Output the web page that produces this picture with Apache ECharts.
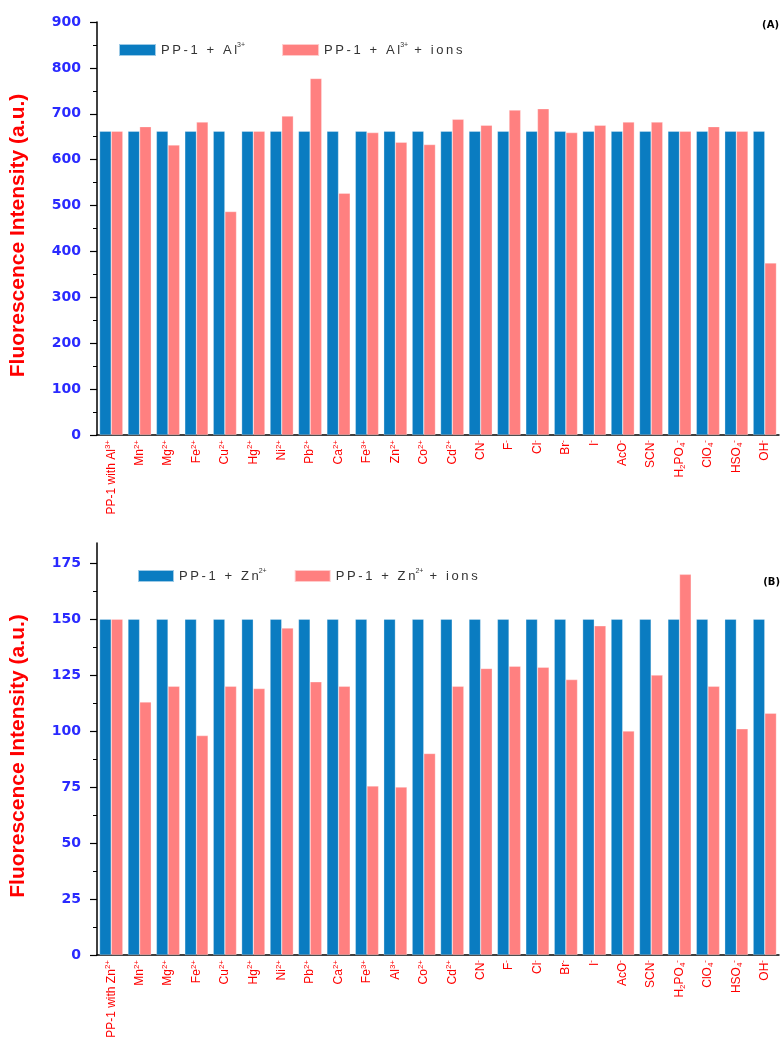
<!DOCTYPE html>
<html><head><meta charset="utf-8">
<script src="https://cdn.jsdelivr.net/npm/echarts@6/dist/echarts.min.js"></script>
<style>html,body{margin:0;padding:0;background:#fff}#c{width:780px;height:1056px}</style>
</head><body><div id="c"></div>
<script>
const catsA = ['PP-1 with Al{sup|3+}','Mn{sup|2+}','Mg{sup|2+}','Fe{sup|2+}','Cu{sup|2+}','Hg{sup|2+}','Ni{sup|2+}','Pb{sup|2+}','Ca{sup|2+}','Fe{sup|3+}','Zn{sup|2+}','Co{sup|2+}','Cd{sup|2+}','CN{sup|-}','F{sup|-}','Cl{sup|-}','Br{sup|-}','I{sup|-}','AcO{sup|-}','SCN{sup|-}','H{sub|2}PO{sub|4}{sup|-}','ClO{sub|4}{sup|-}','HSO{sub|4}{sup|-}','OH{sup|-}'];
const catsB = ['PP-1 with Zn{sup|2+}','Mn{sup|2+}','Mg{sup|2+}','Fe{sup|2+}','Cu{sup|2+}','Hg{sup|2+}','Ni{sup|2+}','Pb{sup|2+}','Ca{sup|2+}','Fe{sup|3+}','Al{sup|3+}','Co{sup|2+}','Cd{sup|2+}','CN{sup|-}','F{sup|-}','Cl{sup|-}','Br{sup|-}','I{sup|-}','AcO{sup|-}','SCN{sup|-}','H{sub|2}PO{sub|4}{sup|-}','ClO{sub|4}{sup|-}','HSO{sub|4}{sup|-}','OH{sup|-}'];
const blueA = [662,662,662,662,662,662,662,662,662,662,662,662,662,662,662,662,662,662,662,662,662,662,662,662];
const redA  = [662,672,632,682,487,662,695,777,527,659,638,633,688,675,708,711,659,675,682,682,662,672,662,375];
const blueB = [150,150,150,150,150,150,150,150,150,150,150,150,150,150,150,150,150,150,150,150,150,150,150,150];
const redB  = [150,113,120,98,120,119,146,122,120,75.5,75,90,120,128,129,128.5,123,147,100,125,170,120,101,108];
const ticksA = [0,100,200,300,400,500,600,700,800,900];
const ticksB = [0,25,50,75,100,125,150,175];
const nameA1 = 'PP-1 + Al3+', nameA2 = 'PP-1 + Al3+ + ions';
const nameB1 = 'PP-1 + Zn2+', nameB2 = 'PP-1 + Zn2+ + ions';

const BLUE = '#0a7cc1', RED = '#ff8080';
const FF = 'Liberation Sans, Arial, sans-serif';
const labRich = {
  sup: {fontSize: 8, color: '#ff0000', fontFamily: FF, verticalAlign: 'top', lineHeight: 14},
  sub: {fontSize: 8, color: '#ff0000', fontFamily: FF, verticalAlign: 'bottom', lineHeight: 14}
};
const legRich = {
  t: {fontSize: 13, color: '#333', fontFamily: FF},
  s: {fontSize: 7, color: '#333', fontFamily: FF, verticalAlign: 'top', lineHeight: 16}
};
function spaced(s){ return s.split('').join('\u2009'); }
function legFmt(n){
  const m = n.match(/^(PP-1 \+ )(Al|Zn)(\d\+)(.*)$/);
  return '{t|' + spaced(m[1] + m[2]) + '}{s|' + m[3] + '}' + (m[4] ? '{t|' + spaced(m[4]) + '}' : '');
}
const grids = [
  {left: 97, width: 682, top: 22, height: 413},
  {left: 97, width: 682, top: 543, height: 412}
];
function xAxes(gi, cats){
  return [
    {type:'category', gridIndex: gi, data: cats,
     axisLine:{lineStyle:{color:'#000', width:1.5}},
     axisTick:{alignWithLabel:true, length:8, lineStyle:{color:'#000', width:1.5}},
     axisLabel:{rotate:90, interval:0, margin:5, color:'#ff0000', fontSize:12, fontFamily:FF, rich: labRich}},
    {type:'category', gridIndex: gi, data: cats, position:'bottom',
     axisLine:{show:false}, axisLabel:{show:false},
     axisTick:{length:4, lineStyle:{color:'#000', width:1.2}}}
  ];
}
function yAxis(gi, max, interval, ticks){
  return {type:'value', gridIndex: gi, min:0, max:max, interval: interval,
    name:'Fluorescence Intensity (a.u.)', nameLocation:'middle', nameGap:68,
    nameTextStyle:{color:'#ff0000', fontSize:21, fontWeight:'bold', fontFamily:FF, padding:[0,14,0,0]},
    splitLine:{show:false},
    axisLine:{show:true, lineStyle:{color:'#000', width:1.5}},
    axisTick:{show:true, length:7, customValues: ticks, lineStyle:{color:'#000', width:1.2}},
    minorTick:{show:true, splitNumber:2, length:4, lineStyle:{color:'#000', width:1}},
    axisLabel:{customValues: ticks, color:'#2a2aff', fontSize:14, fontWeight:'bold', fontFamily:'DejaVu Sans, sans-serif', margin:16}
  };
}
function bar(name, xi, yi, data, color){
  return {type:'bar', name:name, xAxisIndex: xi, yAxisIndex: yi, data: data,
    barGap:'0%', barCategoryGap:'18%',
    itemStyle:{color: color, borderColor:'rgba(255,255,255,0.6)', borderWidth:0.5}};
}
const option = {
  animation:false,
  backgroundColor:'#fff',
  title:[
    {text:'(A)', right:1, top:20, padding:0, textStyle:{fontSize:10, fontWeight:'bold', color:'#000', fontFamily:'DejaVu Sans'}},
    {text:'(B)', right:0, top:577, padding:0, textStyle:{fontSize:10, fontWeight:'bold', color:'#000', fontFamily:'DejaVu Sans'}}
  ],
  legend:[
    {data:[nameA1, nameA2], left:118, top:42, padding:0, icon:'rect', itemWidth:37, itemHeight:12, itemGap:36,
     formatter: legFmt, textStyle:{rich: legRich}},
    {data:[nameB1, nameB2], left:137, top:568, padding:0, icon:'rect', itemWidth:36, itemHeight:12, itemGap:27,
     formatter: legFmt, textStyle:{rich: legRich}}
  ],
  grid: grids,
  xAxis: [...xAxes(0, catsA), ...xAxes(1, catsB)],
  yAxis: [yAxis(0, 900, 100, ticksA), yAxis(1, 184, 25, ticksB)],
  series: [
    bar(nameA1, 0, 0, blueA, BLUE), bar(nameA2, 0, 0, redA, RED),
    bar(nameB1, 2, 1, blueB, BLUE), bar(nameB2, 2, 1, redB, RED)
  ]
};
const chart = echarts.init(document.getElementById('c'), null, {renderer:'canvas'});
chart.setOption(option);
</script></body></html>
